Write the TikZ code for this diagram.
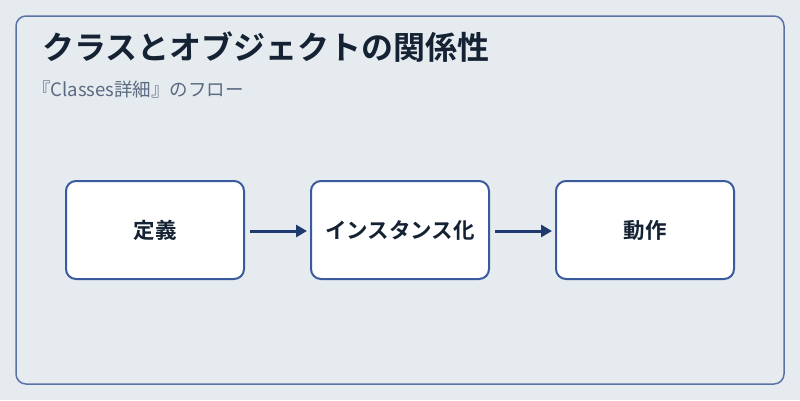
\documentclass[tikz,border=0pt]{standalone}
\usepackage{fontspec}
\newfontfamily\cjk{Noto Sans CJK JP}
\newfontfamily\cjkb{Noto Sans CJK JP Bold}
\usetikzlibrary{arrows.meta}
\definecolor{bg}{HTML}{E6EBF0}
\definecolor{frame}{HTML}{5B72A6}
\definecolor{boxline}{HTML}{3A5A9E}
\definecolor{arr}{HTML}{1F3A6E}
\definecolor{txt}{HTML}{142233}
\definecolor{sub}{HTML}{5A6A80}
\tikzset{
 stepbox/.style={draw=boxline,line width=2pt,fill=white,rounded corners=10pt,minimum width=178pt,minimum height=98pt,font=\cjkb\fontsize{21.5}{24}\selectfont,text=txt},
 flow/.style={draw=arr,line width=3pt,-{Triangle[length=11pt,width=12pt]}}
}
\begin{document}
\begin{tikzpicture}[x=1pt,y=-1pt]
\fill[bg] (0,0) rectangle (800,400);
\useasboundingbox (0,0) rectangle (800,400);
\draw[frame,line width=1.5pt,fill=bg,rounded corners=10pt] (16,16) rectangle (784,384);
\node[anchor=west,text=txt,font=\cjkb\fontsize{32}{36}\selectfont,inner sep=0pt] (title) at (42,47) {クラスとオブジェクトの関係性};
\node[anchor=west,text=sub,font=\cjk\fontsize{18.5}{21}\selectfont,inner sep=0pt] (subtitle) at (32,89) {『Classes詳細』のフロー};
\node[stepbox] (a) at (155,230) {定義};
\node[stepbox] (b) at (400,230) {インスタンス化};
\node[stepbox] (c) at (645,230) {動作};
\draw[flow] (a.east)++(5,1) -- ([shift={(-3,1)}]b.west);
\draw[flow] (b.east)++(5,1) -- ([shift={(-3,1)}]c.west);
\end{tikzpicture}
\end{document}
